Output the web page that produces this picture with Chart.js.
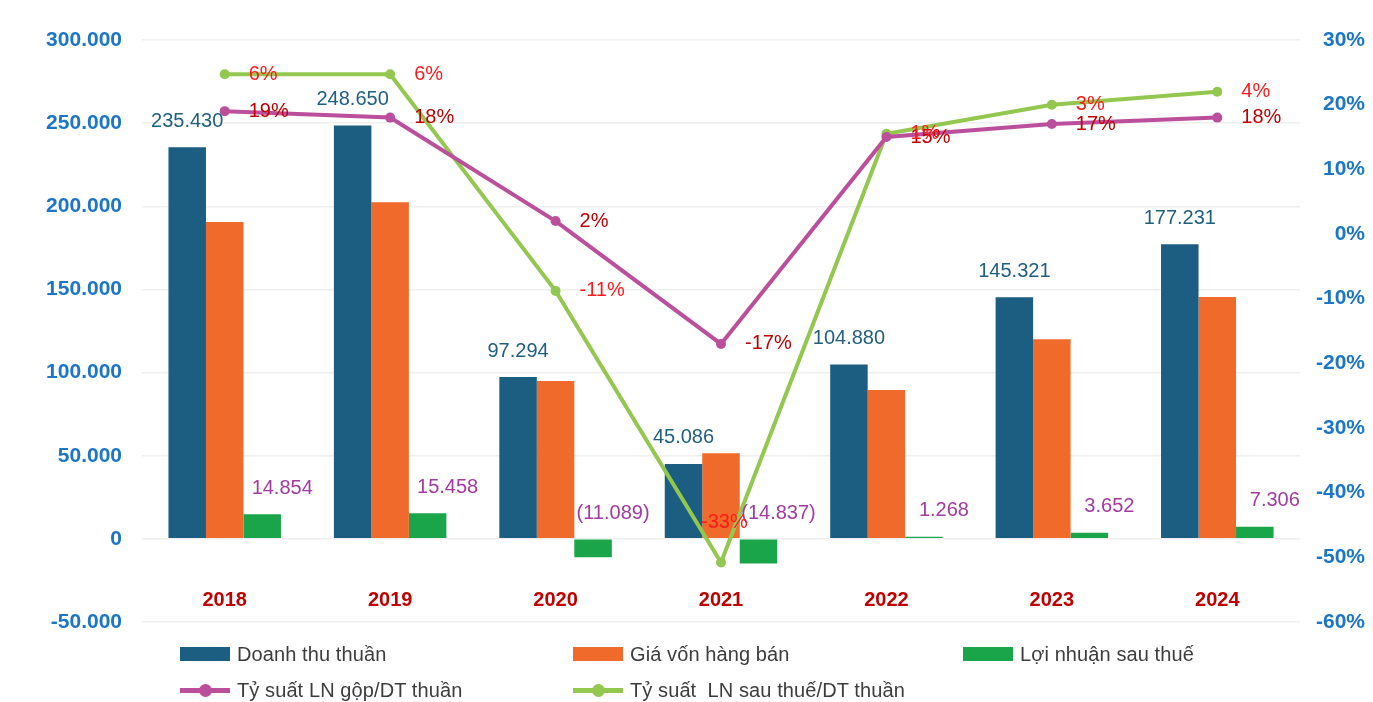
<!DOCTYPE html>
<html>
<head>
<meta charset="utf-8">
<script src="https://cdn.jsdelivr.net/npm/chart.js@4.4.1/dist/chart.umd.min.js"></script>
<style>
  body { margin: 0; background: #fff; }
  #wrap { position: relative; width: 1373px; height: 702px; }
  .legend { position: absolute; left: 0; top: 0; font: 20px 'Liberation Sans', Arial, sans-serif; color: #3c3c3c; letter-spacing: 0.1px; white-space: pre; }
  .legend .item { position: absolute; display: flex; align-items: center; height: 22px; }
  .legend .box { width: 50px; height: 14px; margin-right: 7px; }
  .legend .ln { position: relative; width: 50px; height: 5px; margin-right: 7px; }
  .legend .ln i { position: absolute; left: 19px; top: -4px; width: 13px; height: 13px; border-radius: 50%; }
</style>
</head>
<body>
<div id="wrap">
  <canvas id="financeChart"></canvas>
  <div class="legend" id="legend"></div>
</div>
<script>
  const years = ['2018', '2019', '2020', '2021', '2022', '2023', '2024'];
  const revenue = [235430, 248650, 97294, 45086, 104880, 145321, 177231];
  const costOfSales = [190500, 202500, 95000, 51500, 89500, 120000, 145400];
  const netProfit = [14854, 15458, -11089, -14837, 1268, 3652, 7306];
  const grossMargin = [19, 18, 2, -17, 15, 17, 18];
  // the green line is drawn where the picture shows it, its labels say something else
  const netMarginPlotted = [24.7, 24.7, -8.8, -50.8, 15.5, 20, 22];
  const netMarginLabels = ['6%', '6%', '-11%', '-33%', '1%', '3%', '4%'];

  const seriesNames = [
    'Doanh thu thuần',
    'Giá vốn hàng bán',
    'Lợi nhuận sau thuế',
    'Tỷ suất LN gộp/DT thuần',
    'Tỷ suất  LN sau thuế/DT thuần',
  ];
  const colors = ['#1b5e82', '#f06b2b', '#1aa54b', '#bb4f9c', '#93c750'];

  const font = "'Liberation Sans', Arial, sans-serif";

  function formatThousands(n) {
    const s = Math.abs(Math.round(n)).toString().replace(/\B(?=(\d{3})+(?!\d))/g, '.');
    return (n < 0 ? '-' : '') + s;
  }

  const valueLabels = {
    id: 'valueLabels',
    afterDatasetsDraw(chart) {
      const ctx = chart.ctx;
      ctx.save();
      ctx.font = '20px ' + font;
      ctx.textBaseline = 'middle';

      // revenue labels above the blue bars
      ctx.fillStyle = '#1f5f7f';
      ctx.textAlign = 'center';
      chart.getDatasetMeta(0).data.forEach((bar, i) => {
        ctx.fillText(formatThousands(revenue[i]), bar.x, bar.y - 26);
      });

      // net profit labels, negatives in brackets
      ctx.fillStyle = '#a23aa0';
      chart.getDatasetMeta(2).data.forEach((bar, i) => {
        const v = netProfit[i];
        const text = v < 0 ? '(' + formatThousands(-v) + ')' : formatThousands(v);
        const top = Math.min(bar.y, bar.base);
        ctx.fillText(text, bar.x + 20, top - 26);
      });

      ctx.textAlign = 'left';
      ctx.fillStyle = '#c00000';
      chart.getDatasetMeta(3).data.forEach((pt, i) => {
        ctx.fillText(grossMargin[i] + '%', pt.x + 24, pt.y);
      });

      // the lowest point keeps its label above it, clear of the bars
      ctx.fillStyle = '#ff1a1a';
      chart.getDatasetMeta(4).data.forEach((pt, i) => {
        if (netMarginPlotted[i] < -40) {
          ctx.fillText(netMarginLabels[i], pt.x - 20, pt.y - 40);
        } else {
          ctx.fillText(netMarginLabels[i], pt.x + 24, pt.y);
        }
      });

      // year labels sit inside the plot, under the zero line
      const x = chart.scales.x;
      const zero = chart.scales.y.getPixelForValue(0);
      ctx.font = 'bold 20px ' + font;
      ctx.fillStyle = '#c00000';
      ctx.textAlign = 'center';
      years.forEach((year, i) => {
        ctx.fillText(year, x.getPixelForTick(i), zero + 62);
      });
      ctx.restore();
    },
  };

  const data = {
    labels: years,
    datasets: [
      { type: 'bar', label: seriesNames[0], data: revenue, backgroundColor: colors[0], yAxisID: 'y', order: 1 },
      { type: 'bar', label: seriesNames[1], data: costOfSales, backgroundColor: colors[1], yAxisID: 'y', order: 1 },
      { type: 'bar', label: seriesNames[2], data: netProfit, backgroundColor: colors[2], yAxisID: 'y', order: 1 },
      {
        type: 'line', label: seriesNames[3], data: grossMargin, yAxisID: 'y1', order: 0,
        borderColor: colors[3], backgroundColor: colors[3], borderWidth: 4,
        pointRadius: 5, pointBorderWidth: 0, tension: 0,
      },
      {
        type: 'line', label: seriesNames[4], data: netMarginPlotted, yAxisID: 'y1', order: 0,
        borderColor: colors[4], backgroundColor: colors[4], borderWidth: 4,
        pointRadius: 5, pointBorderWidth: 0, tension: 0,
      },
    ],
  };

  const config = {
    data,
    options: {
      responsive: true,
      maintainAspectRatio: false,
      animation: false,
      layout: { padding: { top: 40, bottom: 80, left: 0, right: 8 } },
      datasets: { bar: { categoryPercentage: 0.68, barPercentage: 1 } },
      scales: {
        x: { display: false },
        y: {
          position: 'left',
          min: -50000,
          max: 300000,
          afterFit: (scale) => { scale.width = 142; },
          border: { display: false },
          grid: { color: '#efefef', lineWidth: 1.5, drawTicks: false },
          ticks: {
            stepSize: 50000,
            padding: 20,
            color: '#1b75c9',
            font: { family: font, size: 21, weight: 'bold' },
            callback: (v) => formatThousands(v),
          },
        },
        y1: {
          position: 'right',
          min: -60,
          max: 30,
          afterFit: (scale) => { scale.width = 65; },
          border: { display: false },
          grid: { display: false, drawTicks: false },
          ticks: {
            stepSize: 10,
            padding: 6,
            crossAlign: 'far',
            color: '#1b75c9',
            font: { family: font, size: 21, weight: 'bold' },
            callback: (v) => v + '%',
          },
        },
      },
      plugins: {
        legend: { display: false },
        tooltip: { enabled: false },
      },
    },
    plugins: [valueLabels],
  };

  const financeChart = new Chart(document.getElementById('financeChart'), config);

  // legend laid out in fixed columns like the original
  const legend = document.getElementById('legend');
  const legendSlots = [[180, 643], [573, 643], [963, 643], [180, 679], [573, 679]];
  seriesNames.forEach((name, i) => {
    const item = document.createElement('div');
    item.className = 'item';
    item.style.left = legendSlots[i][0] + 'px';
    item.style.top = legendSlots[i][1] + 'px';
    const mark = document.createElement('span');
    if (i < 3) {
      mark.className = 'box';
      mark.style.background = colors[i];
    } else {
      mark.className = 'ln';
      mark.style.background = colors[i];
      const dot = document.createElement('i');
      dot.style.background = colors[i];
      mark.appendChild(dot);
    }
    item.appendChild(mark);
    item.appendChild(document.createTextNode(name));
    legend.appendChild(item);
  });
</script>
</body>
</html>
